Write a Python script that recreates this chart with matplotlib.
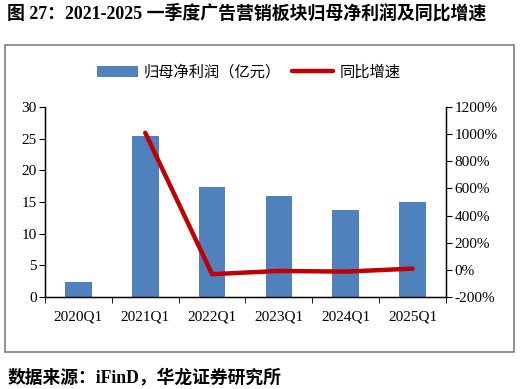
import matplotlib.pyplot as plt
import matplotlib.patches as patches
import numpy as np

plt.rcParams['font.family'] = ['Liberation Serif', 'Noto Sans CJK SC']

# datos
trimestres = ['2020Q1', '2021Q1', '2022Q1', '2023Q1', '2024Q1', '2025Q1']
beneficio = [2.3, 25.5, 17.3, 15.9, 13.8, 15.0]
crecimiento = [None, 1010, -32, -8, -13, 9]

fig = plt.figure(figsize=(5.24, 3.89), dpi=100)

# titulo y fuente
fig.text(0.014, 0.966, '图 27：2021-2025 一季度广告营销板块归母净利润及同比增速',
         fontsize=12.9, fontweight='bold', va='center', ha='left',
         family=['Liberation Serif', 'Noto Sans CJK SC'])
fig.text(0.014, 0.03, '数据来源：iFinD，华龙证券研究所',
         fontsize=12.8, fontweight='bold', va='center', ha='left',
         family=['Liberation Serif', 'Noto Sans CJK SC'])

# marco
marco = patches.Rectangle((5 / 524, 1 - 352 / 389), 509 / 524, 307 / 389,
                          transform=fig.transFigure, fill=False,
                          edgecolor='#7f7f7f', linewidth=1.2)
fig.add_artist(marco)

ax = fig.add_axes([45 / 524, 1 - 297 / 389, 401 / 524, 190 / 389])
x = np.arange(len(trimestres))
barras = ax.bar(x, beneficio, width=0.4, color='#4F81BD', label='归母净利润（亿元）')

ax.set_xlim(-0.5, len(trimestres) - 0.5)
ax.set_ylim(0, 30)
ax.set_yticks(range(0, 31, 5))
ax.set_xticks(x)
ax.set_xticklabels(trimestres)
ax.set_xticks(np.arange(-0.5, len(trimestres)), minor=True)
ax.tick_params(axis='x', which='major', length=0, pad=10, labelsize=11)
ax.tick_params(axis='x', which='minor', length=4, direction='out', color='black')
ax.tick_params(axis='y', length=4, direction='out', labelsize=11, pad=2)
ax.spines['top'].set_visible(False)
for s in ['left', 'bottom', 'right']:
    ax.spines[s].set_linewidth(1.0)

ax2 = ax.twinx()
xs = [i for i, v in enumerate(crecimiento) if v is not None]
ys = [v for v in crecimiento if v is not None]
linea, = ax2.plot(xs, ys, color='#C00000', linewidth=3.2, solid_capstyle='round',
                  label='同比增速')
ax2.set_ylim(-200, 1200)
ax2.set_yticks(range(-200, 1201, 200))
ax2.set_yticklabels([f'{v}%' for v in range(-200, 1201, 200)])
ax2.tick_params(axis='y', length=4, direction='out', labelsize=11, pad=2)
ax2.spines['top'].set_visible(False)

fig.legend(handles=[barras, linea], loc='center', bbox_to_anchor=(0.474, 1 - 72 / 389),
           ncol=2, frameon=False, handlelength=2.7, handletextpad=0.4,
           columnspacing=0.7, prop={'family': ['Noto Sans CJK SC'], 'size': 11})

fig.savefig('out.png', dpi=100)
